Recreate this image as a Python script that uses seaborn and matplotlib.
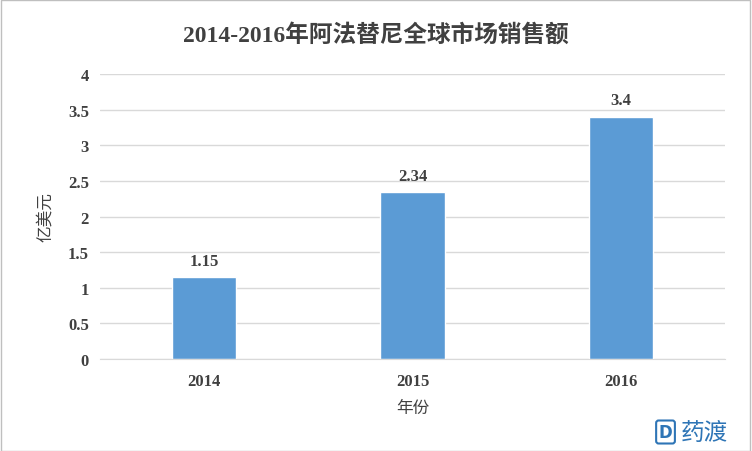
import matplotlib
matplotlib.use("Agg")
import matplotlib.pyplot as plt
import seaborn as sns
import pandas as pd

years = ["2014", "2015", "2016"]
sales = [1.15, 2.34, 3.4]
value_labels = ["1.15", "2.34", "3.4"]
yticks = [0, 0.5, 1, 1.5, 2, 2.5, 3, 3.5, 4]
ytick_labels = ["0", "0.5", "1", "1.5", "2", "2.5", "3", "3.5", "4"]

sns.set_style("white")
fams = ["Liberation Serif", "Noto Sans CJK SC"]
plt.rcParams['font.family'] = fams

df = pd.DataFrame({"year": years, "sales": sales})
fig = plt.figure(figsize=(7.52, 4.52), dpi=100)
ax = fig.add_axes([100/752, 1-360/452, 625/752, 285/452])
sns.barplot(data=df, x="year", y="sales", color="#5B9BD5", saturation=1, width=0.31, ax=ax)
ax.set_xlim(-0.5, 2.5)
ax.set_ylim(0, 4)
ax.set_yticks(yticks)
ax.set_yticklabels(ytick_labels, fontsize=12, fontweight="bold", color="#404040")
ax.tick_params(axis="x", labelsize=12, colors="#404040", length=0, pad=10)
for t in ax.get_xticklabels():
    t.set_fontweight("bold")
ax.tick_params(axis="y", length=0, pad=8)
ax.grid(axis="y", color="#D9D9D9", linewidth=1)
ax.set_axisbelow(True)
for s in ["top", "right", "left"]:
    ax.spines[s].set_visible(False)
ax.spines["bottom"].set_color("#D9D9D9")
for i, (v, lab) in enumerate(zip(sales, value_labels)):
    ax.text(i, v + 0.12, lab, ha="center", va="bottom", fontsize=12, fontweight="bold", color="#404040")
ax.set_xlabel("年份", fontsize=12, color="#404040", labelpad=8)
ax.set_ylabel("亿美元", fontsize=12, color="#404040", labelpad=10)
fig.text(0.5, 1-35/452, "2014-2016年阿法替尼全球市场销售额", ha="center", va="center",
         fontsize=17, fontweight="bold", color="#404040")
fig.text(0.968, 1-433/452, "药渡", ha="right", va="center", fontsize=17, color="#2E75B6",
         family="Noto Sans CJK SC")
fig.text(0.885, 1-433/452, "D", ha="center", va="center", fontsize=12, color="#2E75B6",
         fontweight="bold", family="DejaVu Sans",
         bbox=dict(boxstyle="round,pad=0.15", fc="white", ec="#2E75B6", lw=1.5))
fig.patches.append(plt.Rectangle((0.001, 0.001), 0.997, 0.997, transform=fig.transFigure,
                                 fill=False, ec="#BFBFBF", lw=1))
fig.savefig("out.png", dpi=100)
